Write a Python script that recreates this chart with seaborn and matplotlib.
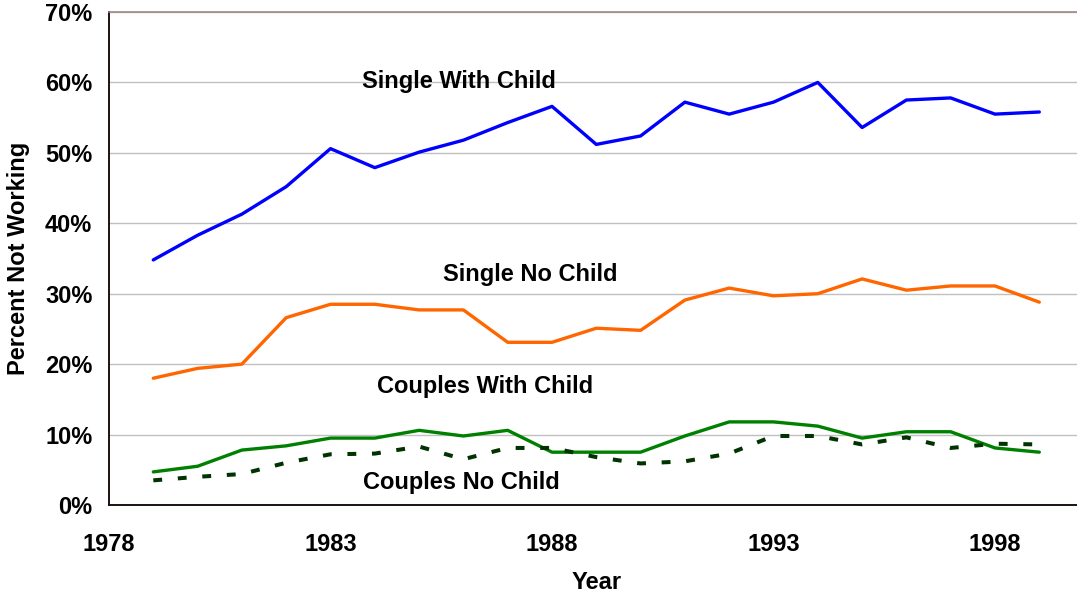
import pandas as pd
import matplotlib
matplotlib.use('Agg')
import matplotlib.pyplot as plt
import seaborn as sns
from matplotlib.ticker import FuncFormatter

# values (percent not working)
years = list(range(1979, 2000))
single_with_child = [34.8, 38.3, 41.3, 45.2, 50.6, 47.9, 50.1, 51.8, 54.3, 56.6,
                     51.2, 52.4, 57.2, 55.5, 57.2, 60.0, 53.6, 57.5, 57.8, 55.5, 55.8]
single_no_child = [18.0, 19.4, 20.0, 26.6, 28.5, 28.5, 27.7, 27.7, 23.1, 23.1,
                   25.1, 24.8, 29.1, 30.8, 29.7, 30.0, 32.1, 30.5, 31.1, 31.1, 28.8]
couples_with_child = [4.7, 5.5, 7.8, 8.4, 9.5, 9.5, 10.6, 9.8, 10.6, 7.5,
                      7.5, 7.5, 9.8, 11.8, 11.8, 11.2, 9.5, 10.4, 10.4, 8.1, 7.5]
couples_no_child = [3.5, 4.0, 4.4, 6.0, 7.2, 7.3, 8.3, 6.5, 8.1, 8.1,
                    6.8, 5.9, 6.2, 7.3, 9.8, 9.8, 8.6, 9.6, 8.1, 8.7, 8.6]

series_names = ['Single With Child', 'Single No Child', 'Couples With Child', 'Couples No Child']
series_values = [single_with_child, single_no_child, couples_with_child, couples_no_child]
colors = {'Single With Child': '#0000ff', 'Single No Child': '#ff6600',
          'Couples With Child': '#008000', 'Couples No Child': '#003300'}
# where each label sits (data coords, baseline)
label_pos = {'Single With Child': (1985.9, 59.2), 'Single No Child': (1987.5, 31.8),
             'Couples With Child': (1986.5, 15.9), 'Couples No Child': (1985.95, 2.3)}

x_ticks = [1978, 1983, 1988, 1993, 1998]
y_ticks = [0, 10, 20, 30, 40, 50, 60, 70]

df = pd.DataFrame({
    'Year': years * len(series_names),
    'Percent': sum(series_values, []),
    'Group': [n for n in series_names for _ in years],
})

sns.set_style('white')
plt.rcParams['font.family'] = ['Liberation Sans', 'DejaVu Sans']
plt.rcParams['font.weight'] = 'bold'
plt.rcParams['text.color'] = 'black'
plt.rcParams['axes.labelcolor'] = 'black'
FS = 17

fig = plt.figure(figsize=(10.77, 5.96), dpi=100)
ax = fig.add_axes([109 / 1077, 1 - 505 / 596, 974.6 / 1077, 493 / 596])

sns.lineplot(data=df, x='Year', y='Percent', hue='Group', style='Group',
             palette=colors, hue_order=series_names, style_order=series_names,
             dashes={'Single With Child': '', 'Single No Child': '',
                     'Couples With Child': '', 'Couples No Child': (2.2, 3.9)},
             linewidth=2.4, legend=False, ax=ax)
# dashed line a bit heavier
ax.lines[3].set_linewidth(2.9)

for name in series_names:
    x, y = label_pos[name]
    ax.text(x, y, name, ha='center', va='baseline', fontsize=FS, fontweight='bold', color='black')

ax.set_xlim(1978, 2000)
ax.set_ylim(0, 70)
ax.set_xticks(x_ticks)
ax.set_yticks(y_ticks)
ax.yaxis.set_major_formatter(FuncFormatter(lambda v, p: f'{int(v)}%'))
ax.yaxis.grid(True, color='#c0c0c0', linewidth=1.0)
ax.xaxis.grid(False)
ax.set_axisbelow(True)

for s in ['left', 'bottom']:
    ax.spines[s].set_color('#201010')
    ax.spines[s].set_linewidth(1.4)
ax.spines['top'].set_color('#a08888')
ax.spines['top'].set_linewidth(1.2)
ax.spines['right'].set_visible(False)

ax.tick_params(axis='both', which='major', labelsize=FS, colors='black',
               direction='out', length=7, width=1.2)
ax.tick_params(axis='x', pad=13)
ax.tick_params(axis='y', pad=5)
for lbl in ax.get_xticklabels() + ax.get_yticklabels():
    lbl.set_fontweight('bold')

ax.set_xlabel('Year', fontsize=FS, fontweight='bold', labelpad=11, color='black')
ax.set_ylabel('Percent Not Working', fontsize=FS, fontweight='bold', labelpad=11, color='black')

fig.savefig('out.png', dpi=100)
